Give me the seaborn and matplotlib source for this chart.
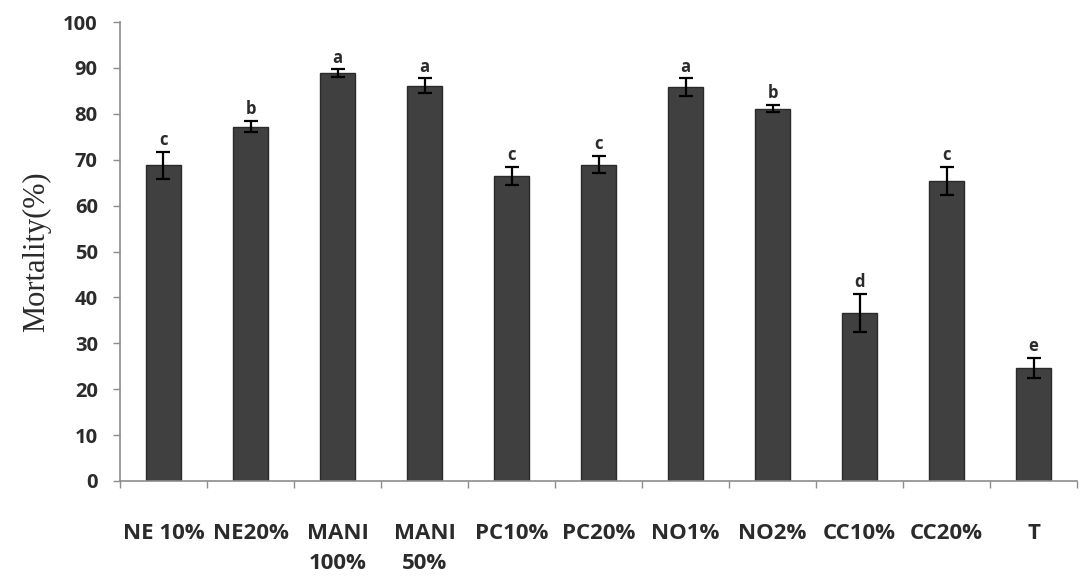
import numpy as np
import pandas as pd
import matplotlib
matplotlib.use("Agg")
import matplotlib.pyplot as plt
import seaborn as sns

# -------- data --------
treatments = ["NE 10%", "NE20%", "MANI\n100%", "MANI\n50%", "PC10%", "PC20%",
              "NO1%", "NO2%", "CC10%", "CC20%", "T"]
mortality = [68.8, 77.2, 88.9, 86.1, 66.5, 68.9, 85.8, 81.1, 36.6, 65.4, 24.6]
errors = [2.9, 1.2, 0.8, 1.6, 2.0, 1.9, 1.9, 0.8, 4.2, 3.0, 2.2]
letters = ["c", "b", "a", "a", "c", "c", "a", "b", "d", "c", "e"]

df = pd.DataFrame({"treatment": treatments, "mortality": mortality})

# -------- style --------
sns.set_style("white")
plt.rcParams["font.family"] = ["Open Sans", "DejaVu Sans"]
text_col = "#2b2b2b"
spine_col = "#8c8c8c"

fig = plt.figure(figsize=(10.83, 5.87), dpi=100)
ax = fig.add_axes([0.1108, 0.1806, 0.8837, 0.7819])

sns.barplot(data=df, x="treatment", y="mortality", color="#404040",
            edgecolor="#2a2a2a", linewidth=1, width=0.4, saturation=1,
            errorbar=None, ax=ax)

xpos = np.arange(len(treatments))
ax.errorbar(xpos, mortality, yerr=errors, fmt="none", ecolor="black",
            elinewidth=1.6, capsize=5, capthick=1.6)

for x, m, e, lab in zip(xpos, mortality, errors, letters):
    ax.text(x, m + e + 0.6, lab, ha="center", va="bottom",
            fontsize=12, fontweight="bold", color=text_col)

# -------- axes --------
ax.set_xlim(-0.5, len(treatments) - 0.5)
ax.set_ylim(0, 100)
ax.set_yticks(np.arange(0, 101, 10))
ax.tick_params(axis="y", direction="out", length=5, width=1, color=spine_col,
               labelsize=14.5, labelcolor=text_col, pad=11, left=True)
for t in ax.get_yticklabels():
    t.set_fontweight("bold")

ax.set_xticks(xpos)
ax.set_xticklabels(treatments, fontsize=16, fontweight="bold", color=text_col,
                   linespacing=1.6)
ax.tick_params(axis="x", length=0, pad=30)
ax.set_xticks(np.arange(-0.5, len(treatments), 1), minor=True)
ax.tick_params(axis="x", which="minor", direction="out", length=5, width=1,
               color=spine_col, bottom=True)

ax.set_xlabel("")
ax.set_ylabel("Mortality(%)", family=["Liberation Serif", "DejaVu Serif"],
              fontsize=22, color=text_col, labelpad=9)

sns.despine(ax=ax)
for s in ["left", "bottom"]:
    ax.spines[s].set_color(spine_col)
    ax.spines[s].set_linewidth(1.2)

fig.savefig("out.png", dpi=100)
